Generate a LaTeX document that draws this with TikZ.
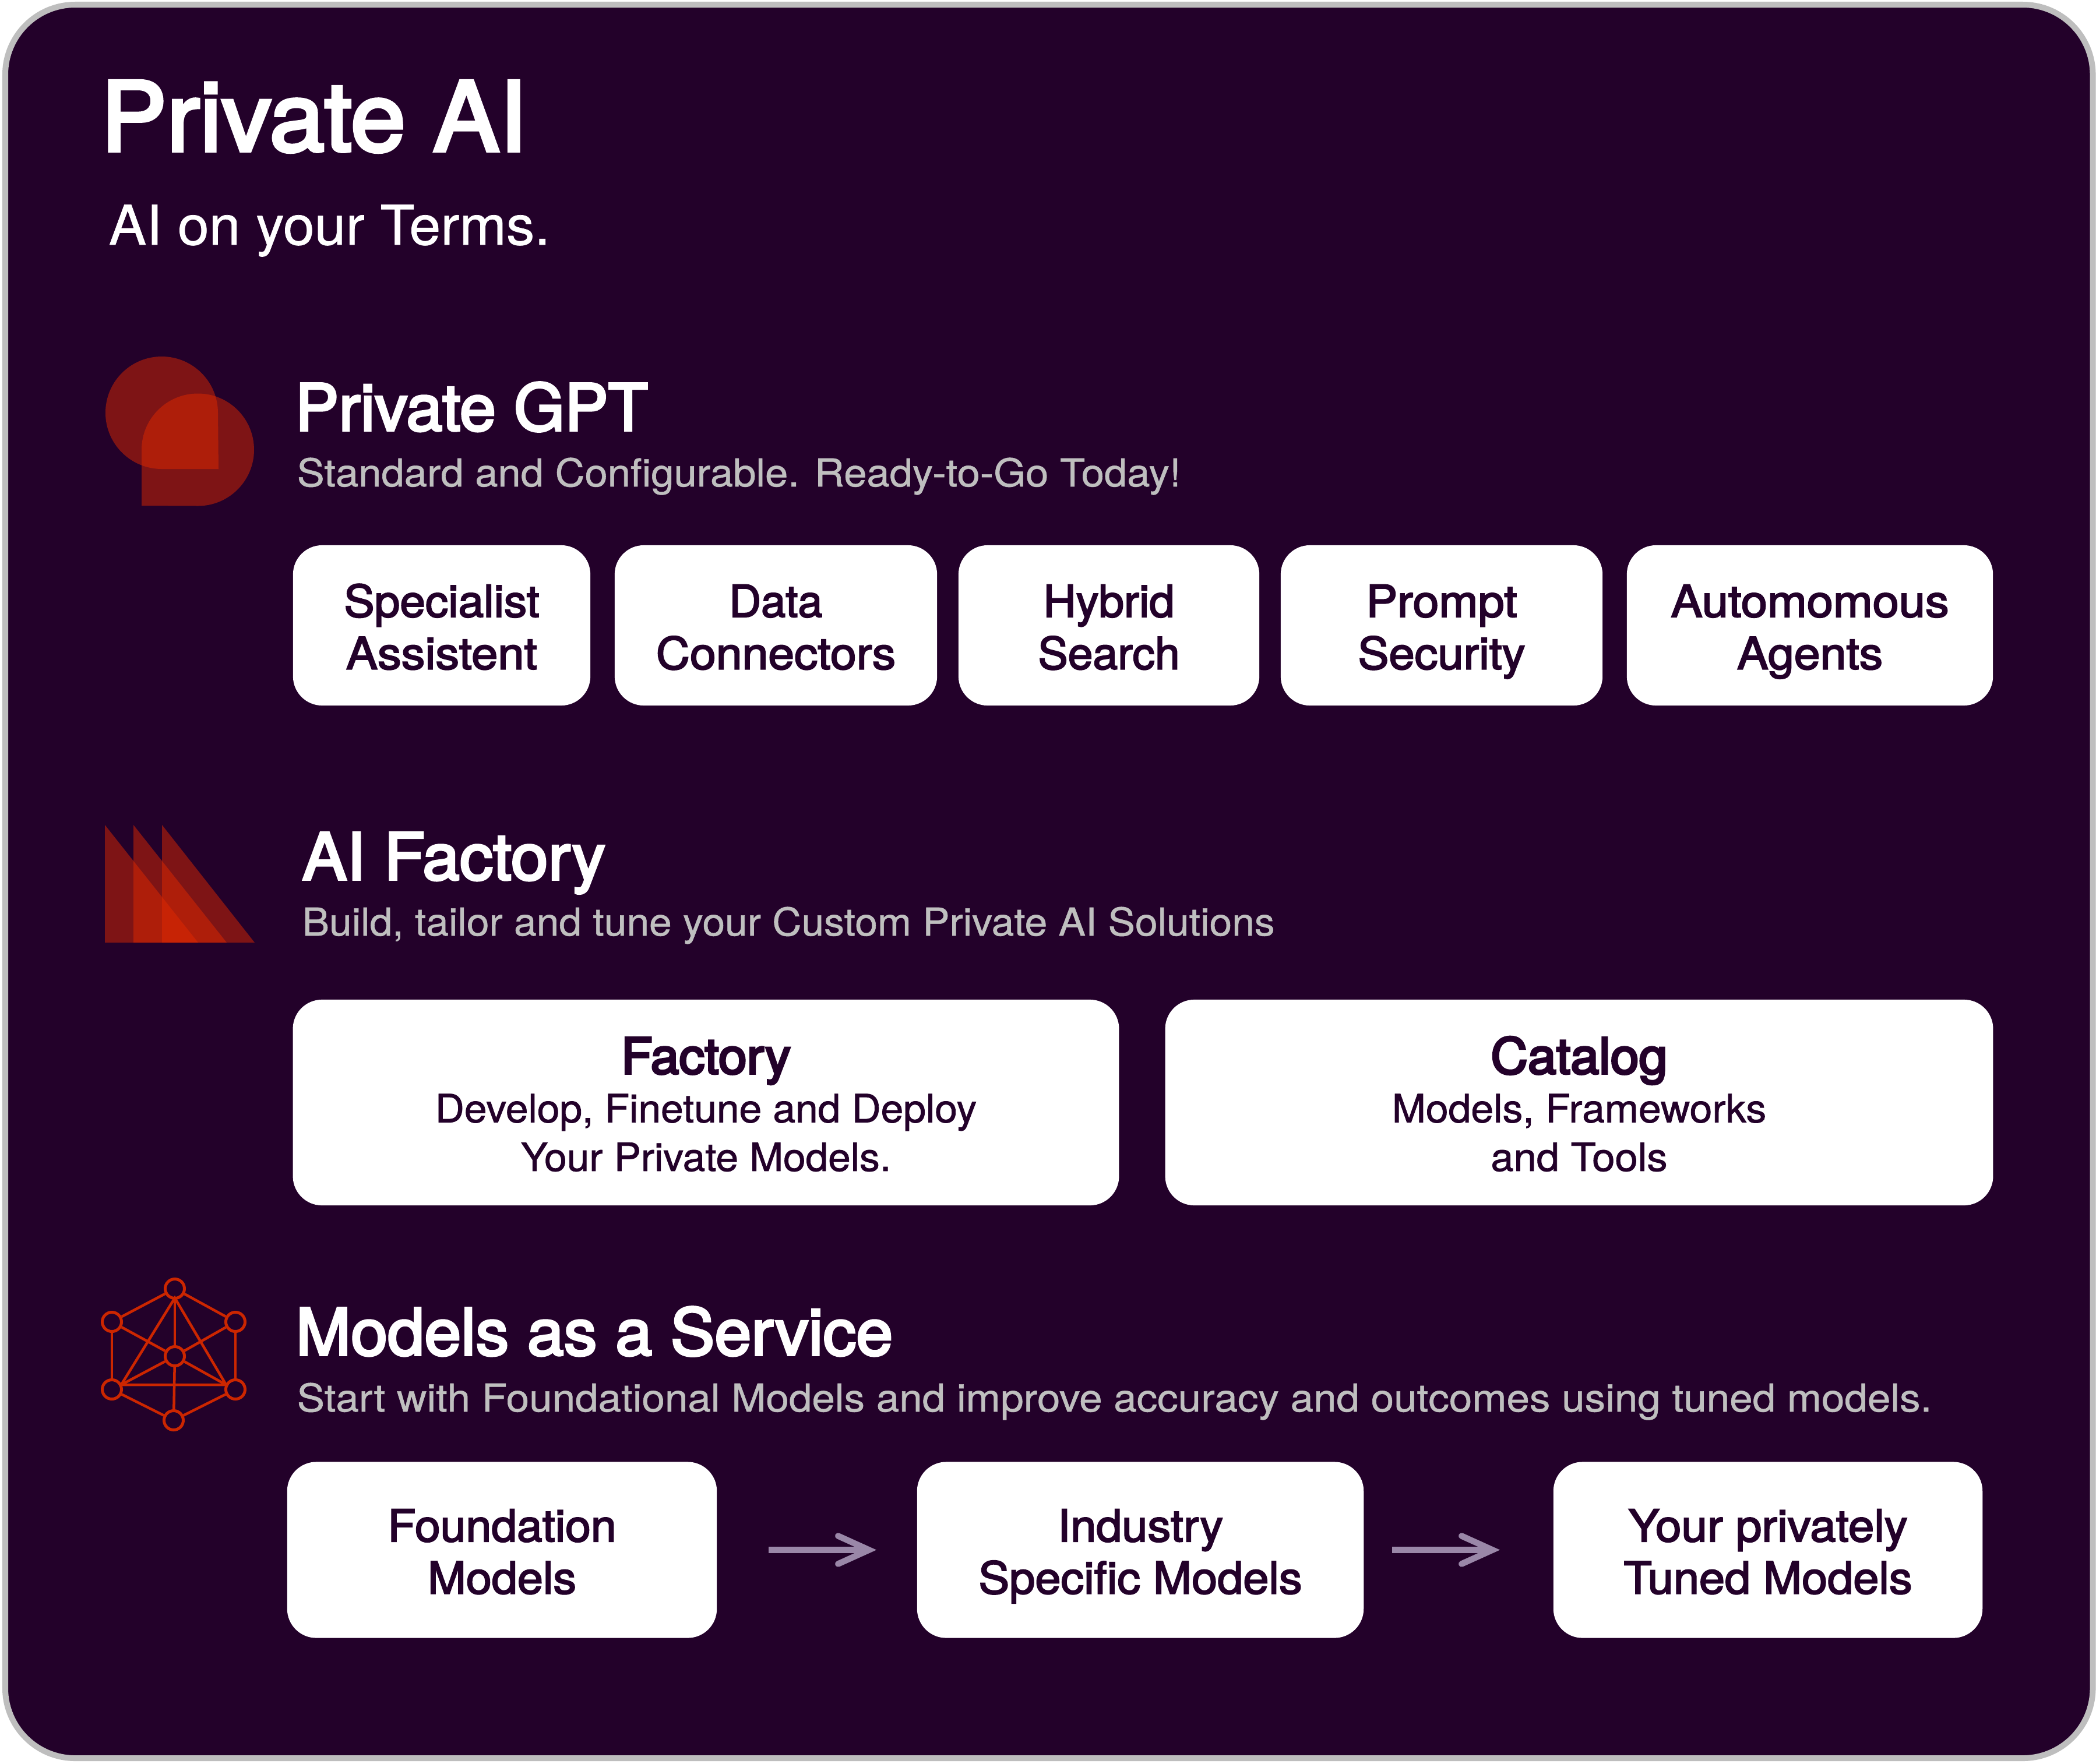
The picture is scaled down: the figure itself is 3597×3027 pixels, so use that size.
\documentclass[tikz,border=0pt]{standalone}
\usepackage{fontspec}
\usepackage{graphicx}
\usetikzlibrary{arrows.meta}
\setmainfont{TeX Gyre Heros}[FakeBold=0.8,Ligatures=NoCommon]
\newfontfamily\bodyf{TeX Gyre Heros}[FakeBold=1.2,Ligatures=NoCommon]
\newfontfamily\medf{TeX Gyre Heros}[FakeBold=2.6,Ligatures=NoCommon]
\newfontfamily\semif{TeX Gyre Heros}[FakeBold=3.4,Ligatures=NoCommon]
\newfontfamily\boldf{TeX Gyre Heros}[FakeBold=4.2,Ligatures=NoCommon]
\definecolor{bgc}{HTML}{23012A}
\definecolor{framec}{HTML}{BEBEBE}
\definecolor{subc}{HTML}{BFBFBF}
\definecolor{arrc}{HTML}{9A87A8}
\definecolor{iconc}{RGB}{227,41,0}
\definecolor{netc}{HTML}{CC2600}
\newsavebox\fitb
\newlength\fitl
\newcommand\fs[1]{\pgfmathsetmacro\fsz{#1*0.28453}\fontsize{\fsz}{\fsz}\selectfont}
\newcommand\fit[2]{\sbox\fitb{#2}\setlength\fitl{\wd\fitb}\pgfmathsetmacro\fitr{#1*0.28453/\fitl}\scalebox{\fitr}[1]{\usebox\fitb}}
\newcommand\blines[3]{\pgfmathsetlengthmacro\bup{#1*0.28453pt}\pgfmathsetlengthmacro\bld{#2*0.28453pt}\raisebox{\bup}[0pt][0pt]{\vtop{\baselineskip=\bld\lineskiplimit=-100pt\halign{\hfil##\hfil\cr#3\crcr}}}}
\tikzset{
  x=0.01cm,y=-0.01cm,
  card/.style={draw=none,fill=white,rounded corners=0.5cm,inner sep=0pt,text=bgc},
  t1/.style={anchor=base west,inner sep=0pt,text=white},
  t2/.style={anchor=base west,inner sep=0pt,text=subc},
  flow/.style={draw=arrc,line width=0.105cm,-{Straight Barb[length=0.53cm,width=0.48cm,line cap=round,line join=miter]}},
  blob/.style={fill=iconc,fill opacity=0.48},
  netn/.style={circle,draw=netc,line width=0.05cm,minimum size=0.33cm,inner sep=0pt},
  netl/.style={draw=netc,line width=0.045cm},
}
\newcommand\rowa[1]{\fs{76}\medf\blines{14.5}{89.5}{#1}}
\begin{document}
\begin{tikzpicture}
\useasboundingbox (0,0) rectangle (3597,3027);
\fill[white] (0,0) rectangle (3597,3027);
\draw[draw=framec,fill=bgc,line width=0.1cm,rounded corners=1.2cm] (9,8) rectangle (3591.5,3018);
% title
\node[t1] (title) at (172,259) {\fs{165}\semif\fit{731}{Private AI}};
\node[t1] (tag) at (186,420) {\fs{94}\fit{757}{AI on your Terms.}};
% section 1
\fill[blob] (375,805) -- (277.5,805) arc[start angle=90,end angle=360,radius=96.5] -- cycle;
\fill[blob] (243,868) -- (243,772) arc[start angle=180,end angle=450,radius=96.5] -- cycle;
\node[t1] (h1) at (506,739) {\fs{111}\semif\fit{605}{Private GPT}};
\node[t2] (s1) at (509,835) {\fs{66}\fit{1516}{Standard and Configurable. Ready-to-Go Today!}};
\node[card,minimum width=5.10cm,minimum height=2.75cm] (a1) at (758,1073.5) {\rowa{\fit{335}{Specialist}\cr\fit{328}{Assistent}}};
\node[card,minimum width=5.53cm,minimum height=2.75cm] (a2) at (1331.5,1073.5) {\rowa{\fit{160}{Data}\cr\fit{411}{Connectors}}};
\node[card,minimum width=5.16cm,minimum height=2.75cm] (a3) at (1903,1073.5) {\rowa{\fit{225}{Hybrid}\cr\fit{243}{Search}}};
\node[card,minimum width=5.52cm,minimum height=2.75cm] (a4) at (2474,1073.5) {\rowa{\fit{259}{Prompt}\cr\fit{287}{Security}}};
\node[card,minimum width=6.28cm,minimum height=2.75cm] (a5) at (3106,1073.5) {\rowa{\fit{477}{Automomous}\cr\fit{250}{Agents}}};
% section 2
\fill[blob] (180,1416) -- (340,1618) -- (180,1618) -- cycle;
\fill[blob] (229,1416) -- (389,1618) -- (229,1618) -- cycle;
\fill[blob] (278,1416) -- (437,1618) -- (278,1618) -- cycle;
\node[t1] (h2) at (518,1510) {\fs{111}\semif\fit{520}{AI Factory}};
\node[t2] (s2) at (518,1606) {\fs{66}\fit{1668}{Build, tailor and tune your Custom Private AI Solutions}};
\node[card,minimum width=14.17cm,minimum height=3.53cm] (b1) at (1211.5,1892.5) {\fs{67}\bodyf\blines{49.5}{83.5}{\fit{291}{\fs{85}\boldf Factory}\cr\fit{929}{Develop, Finetune and Deploy}\cr\fit{635}{Your Private Models.}}};
\node[card,minimum width=14.20cm,minimum height=3.53cm] (b2) at (2710,1892.5) {\fs{67}\bodyf\blines{49.5}{83.5}{\fit{303}{\fs{85}\boldf Catalog}\cr\fit{642}{Models, Frameworks}\cr\fit{303}{and Tools}}};
% section 3
\node[netn] (n1) at (300,2212) {};
\node[netn] (n2) at (192,2269) {};
\node[netn] (n3) at (404,2269) {};
\node[netn] (n4) at (300,2328) {};
\node[netn] (n5) at (192,2385) {};
\node[netn] (n6) at (404,2385) {};
\node[netn] (n7) at (298,2438) {};
\coordinate (ta) at (300,2228);
\coordinate (tl) at (208,2377);
\coordinate (tr) at (388,2377);
\draw[netl] (n1) -- (n2);
\draw[netl] (n1) -- (n3);
\draw[netl] (n2) -- (n5);
\draw[netl] (n3) -- (n6);
\draw[netl] (n5) -- (n7);
\draw[netl] (n6) -- (n7);
\draw[netl] (n4) -- (n2);
\draw[netl] (n4) -- (n3);
\draw[netl] (n4) -- (tl);
\draw[netl] (n4) -- (tr);
\draw[netl] (n4) -- (n7);
\draw[netl] (n4) -- (ta);
\draw[netl,line join=miter] (ta) -- (tl) -- (tr) -- cycle;
\node[t1] (h3) at (507,2326) {\fs{111}\semif\fit{1024}{Models as a Service}};
\node[t2] (s3) at (509,2423) {\fs{66}\fit{2804}{Start with Foundational Models and improve accuracy and outcomes using tuned models.}};
\node[card,minimum width=7.37cm,minimum height=3.02cm] (c1) at (861.5,2660.5) {\rowa{\fit{392}{Foundation}\cr\fit{255}{Models}}};
\node[card,minimum width=7.66cm,minimum height=3.02cm] (c2) at (1957,2660.5) {\rowa{\fit{284}{Industry}\cr\fit{555}{Specific Models}}};
\node[card,minimum width=7.36cm,minimum height=3.02cm] (c3) at (3034,2660.5) {\rowa{\fit{479}{Your privately}\cr\fit{495}{Tuned Models}}};
\draw[flow,shorten <=0.88cm,shorten >=0.69cm] (c1) -- (c2);
\draw[flow,shorten <=0.48cm,shorten >=0.91cm] (c2) -- (c3);
\end{tikzpicture}
\end{document}
